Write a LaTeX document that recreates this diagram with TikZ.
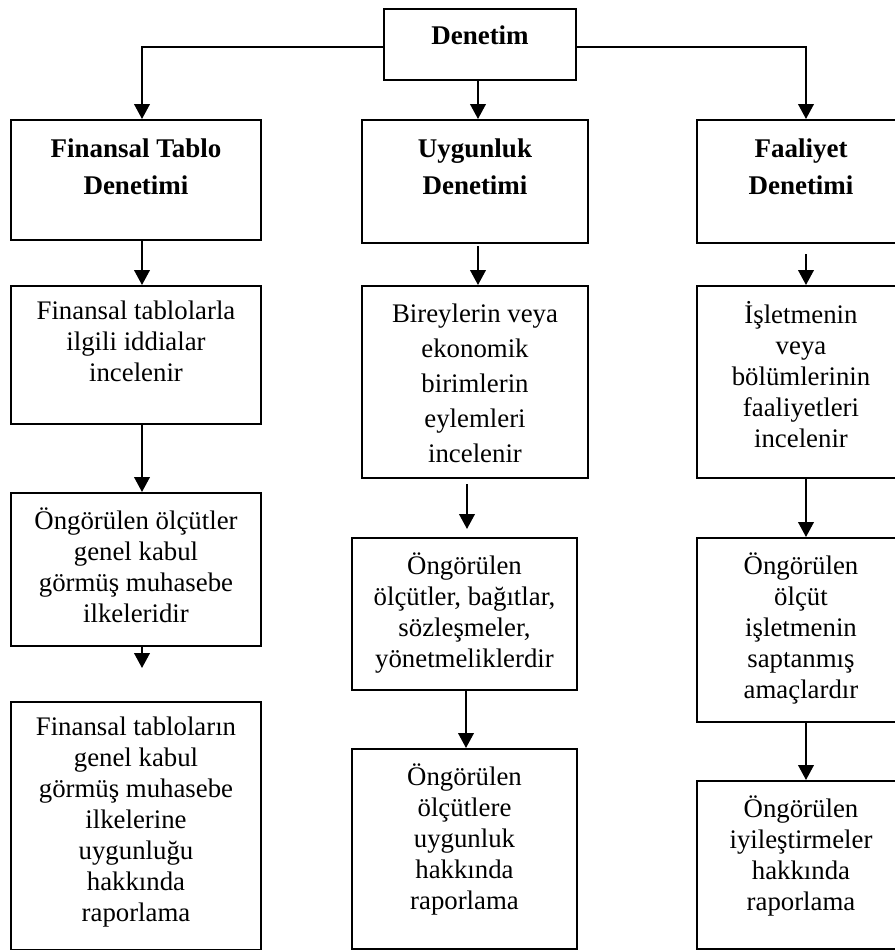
\documentclass[tikz,border=0pt]{standalone}
\usepackage{fontspec}
\setmainfont{Liberation Serif}
\usetikzlibrary{arrows.meta,positioning,calc}

\begin{document}
\begin{tikzpicture}[x=1pt,y=1pt,
    box/.style={draw,line width=1pt,anchor=north,minimum width=125pt,inner sep=0pt},
    base/.style={anchor=north,align=center,inner sep=0pt,execute at begin node=\strut},
    txt/.style={base,font=\fontsize{13.4}{15.5}\selectfont,yshift=-7.9pt},
    wide/.style={base,font=\fontsize{13.4}{17.5}\selectfont,yshift=-9.4pt},
    hd/.style={base,font=\fontsize{13.5}{18.5}\selectfont\bfseries,yshift=-9.7pt},
    arr/.style={-{Triangle[width=7.8pt,length=7.5pt]},line width=1pt}]

  \useasboundingbox (0,0) rectangle (447.5,-475);
  \clip (0,0) rectangle (447.5,-475);

  % root
  \node[box,minimum width=96pt,minimum height=35.5pt,
        label={[hd,yshift=4.5pt]north:Denetim}] (den) at (240,-4) {};

  % three kinds of audit
  \node[box,minimum height=60pt,
        label={[hd]north:{Finansal Tablo\\Denetimi}}] (ftd) at (68,-59.5) {};
  \node[box,minimum width=113pt,minimum height=61.5pt,
        label={[hd]north:{Uygunluk\\Denetimi}}] (ud) at (237.5,-59.5) {};
  \node[box,minimum width=104pt,minimum height=61.5pt,
        label={[hd]north:{Faaliyet\\Denetimi}}] (fd) at (400.5,-59.5) {};

  % what is examined
  \node[box,minimum height=69pt,
        label={[txt]north:{Finansal tablolarla\\ilgili iddialar\\incelenir}}] (ft1) at (68,-142.5) {};
  \node[box,minimum width=113pt,minimum height=96pt,
        label={[wide]north:{Bireylerin veya\\ekonomik\\birimlerin\\eylemleri\\incelenir}}] (u1) at (237.5,-142.5) {};
  \node[box,minimum width=104pt,minimum height=96pt,
        label={[txt]north:{İşletmenin\\veya\\bölümlerinin\\faaliyetleri\\incelenir}}] (f1) at (400.5,-142.5) {};

  % criteria
  \node[box,minimum height=76.5pt,
        label={[txt]north:{Öngörülen ölçütler\\genel kabul\\görmüş muhasebe\\ilkeleridir}}] (ft2) at (68,-246) {};
  \node[box,minimum width=112.5pt,minimum height=76pt,
        label={[txt]north:{Öngörülen\\ölçütler, bağıtlar,\\sözleşmeler,\\yönetmeliklerdir}}] (u2) at (232.25,-268.5) {};
  \node[box,minimum width=104pt,minimum height=92pt,
        label={[txt]north:{Öngörülen\\ölçüt\\işletmenin\\saptanmış\\amaçlardır}}] (f2) at (400.5,-268.5) {};

  % reporting
  \node[box,minimum height=124pt,
        label={[txt]north:{Finansal tabloların\\genel kabul\\görmüş muhasebe\\ilkelerine\\uygunluğu\\hakkında\\raporlama}}] (ft3) at (68,-350.5) {};
  \node[box,minimum width=112.5pt,minimum height=100pt,
        label={[txt]north:{Öngörülen\\ölçütlere\\uygunluk\\hakkında\\raporlama}}] (u3) at (232.25,-374) {};
  \node[box,minimum width=104pt,minimum height=84pt,
        label={[txt]north:{Öngörülen\\iyileştirmeler\\hakkında\\raporlama}}] (f3) at (400.5,-390) {};

  % root -> kinds
  \draw[arr] ([yshift=-1pt]den.west) -| ([xshift=3pt]ftd.north);
  \draw[arr] ([xshift=1.5pt]ud.north |- den.south) -- ([xshift=1.5pt]ud.north);
  \draw[arr] ([yshift=-1pt]den.east) -| ([xshift=2.5pt]fd.north);

  % down each column
  \foreach \a/\b/\s/\p/\q in {ftd/ft1/3pt/0pt/0pt, ft1/ft2/3pt/0pt/0pt, ft2/ft3/3pt/0pt/16.5pt,
                              ud/u1/1.5pt/1pt/0pt, u1/u2/1.25pt/2.5pt/4pt, u2/u3/0.75pt/0pt/0pt,
                              fd/f1/2.5pt/5pt/0pt, f1/f2/2.5pt/0pt/0pt, f2/f3/2.5pt/0pt/0pt}{
    \draw[arr,shorten <=\p,shorten >=\q]
      ([xshift=\s]\b.north |- \a.south) -- ([xshift=\s]\b.north);
  }
\end{tikzpicture}
\end{document}
